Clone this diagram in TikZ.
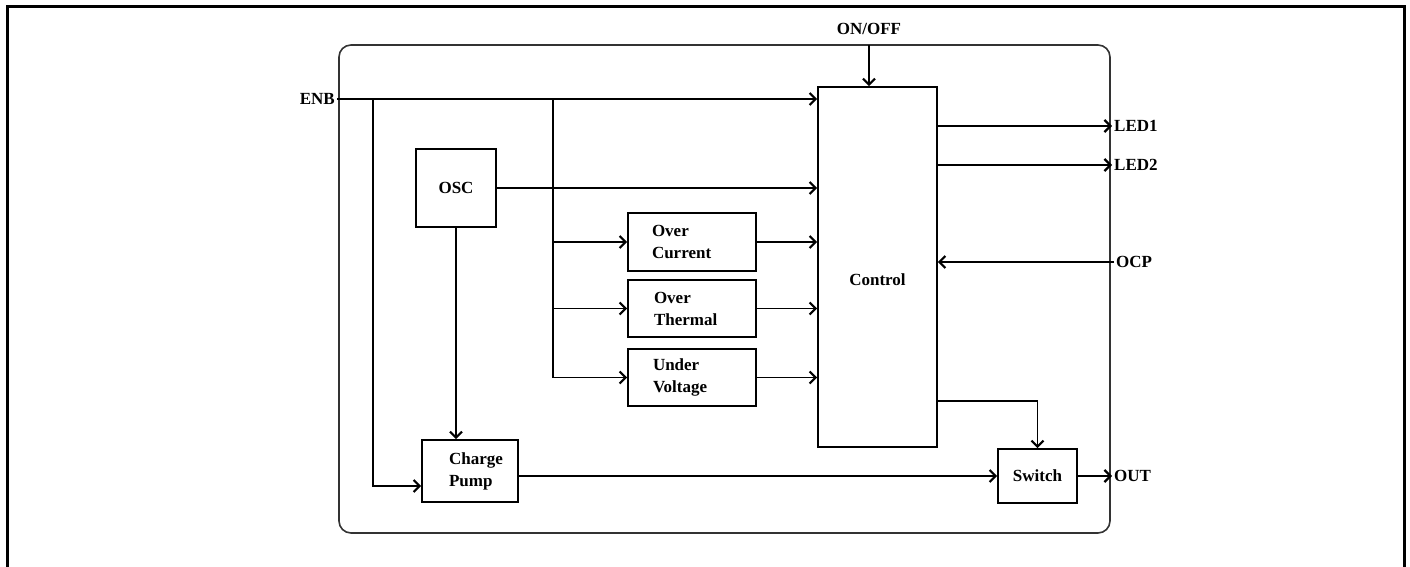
\documentclass[tikz,border=0pt]{standalone}
\usepackage{fontspec}
\setmainfont{Liberation Serif}
\usetikzlibrary{calc}
\usetikzlibrary{arrows.meta}

\tikzset{
  lbl/.style={font=\bfseries\fontsize{17}{22}\selectfont, inner sep=2pt},
  blk/.style={lbl, draw, line width=1.6pt, align=left, inner sep=0pt},
  wire/.style={line width=1.6pt, -{Straight Barb[length=6pt,width=12pt,line width=2.2pt]}}
}

\begin{document}
\begin{tikzpicture}[x=1pt, y=-1pt]
      \useasboundingbox (0,0) rectangle (1410,566);
      \draw[line width=3pt] (7,580) -- (7,6) -- (1404,6) -- (1404,580);
      \draw[line width=1.6pt, rounded corners=12pt, black!80] (339,45) rectangle (1110,533);

      \draw (877.5,267) node[blk, minimum width=119, minimum height=360,
        label={[lbl, yshift=-13pt]center:Control}] (ctrl) {};
      \draw (456,188) node[blk, minimum width=80, minimum height=78] (osc) {OSC};
      \draw (692,242) node[blk, minimum width=128, minimum height=58, text width=80] (oc) {Over\\Current};
      \draw (692,308.5) node[blk, minimum width=128, minimum height=57, text width=76] (ot) {Over\\Thermal};
      \draw (692,377.5) node[blk, minimum width=128, minimum height=57, text width=78] (uv) {Under\\Voltage};
      \draw (470,471) node[blk, minimum width=96, minimum height=62] (pump) {\hspace*{12pt}Charge\\\hspace*{12pt}Pump};
      \draw (1037.5,476) node[blk, minimum width=79, minimum height=54] (sw) {Switch};

      \draw (337,99) node[lbl, anchor=east] (enb) {ENB};
      \draw (869,29) node[lbl] (onoff) {ON/OFF};
      \draw (1112,126) node[lbl, anchor=west] (led1) {LED1};
      \draw (1112,165) node[lbl, anchor=west] (led2) {LED2};
      \draw (1114,262) node[lbl, anchor=west] (ocp) {OCP};
      \draw (1112,476) node[lbl, anchor=west] (out) {OUT};

      \coordinate (b1) at (373,99);
      \coordinate (b2) at (553,99);
      \coordinate (top) at (869,45);

      \draw[wire] (enb.east) -- (enb.east -| ctrl.west);
      \draw[wire] (top) -- (top |- ctrl.north);
      \draw[wire] (osc.east) -- (osc.east -| ctrl.west);
      \draw[wire] (osc.south) -- (osc.south |- pump.north);
      \draw[wire] (b1) |- ($(pump.west)+(0,15)$);
      \draw[wire] (b2) |- (oc.west);
      \draw[wire] (b2) |- (ot.west);
      \draw[wire] (b2) |- (uv.west);
      \draw[wire] (oc.east) -- (oc.east -| ctrl.west);
      \draw[wire] (ot.east) -- (ot.east -| ctrl.west);
      \draw[wire] (uv.east) -- (uv.east -| ctrl.west);
      \draw[wire] (led1.west -| ctrl.east) -- (led1.west);
      \draw[wire] (led2.west -| ctrl.east) -- (led2.west);
      \draw[wire] (ocp.west) -- (ocp.west -| ctrl.east);
      \draw[wire] ($(ctrl.south east)+(0,-47)$) -| (sw.north);
      \draw[wire] (sw.west -| pump.east) -- (sw.west);
      \draw[wire] (sw.east) -- (out.west);
\end{tikzpicture}
\end{document}
